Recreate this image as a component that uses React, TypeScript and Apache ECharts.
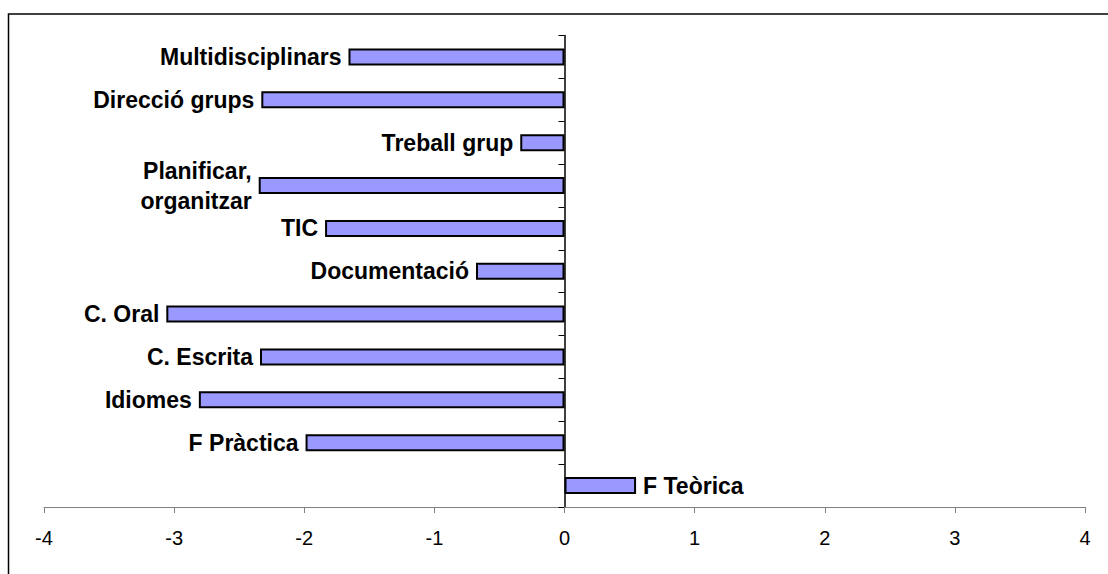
import React, { useEffect, useRef } from "react";
import * as echarts from "echarts";

const categories = [
  "Multidisciplinars",
  "Direcció grups",
  "Treball grup",
  "Planificar,\norganitzar",
  "TIC",
  "Documentació",
  "C. Oral",
  "C. Escrita",
  "Idiomes",
  "F Pràctica",
  "F Teòrica",
];
const values = [-1.66, -2.33, -0.34, -2.35, -1.84, -0.68, -3.06, -2.34, -2.81, -1.99, 0.55];
const xTicks = [-4, -3, -2, -1, 0, 1, 2, 3, 4];

const FONT = "'Liberation Sans', Arial, sans-serif";

export default function App() {
  const ref = useRef<HTMLDivElement>(null);
  useEffect(() => {
    if (!ref.current) return;
    const chart = echarts.init(ref.current, null, { renderer: "svg" });
    chart.setOption({
      animation: false,
      backgroundColor: "#ffffff",
      grid: { left: 44, right: 23, top: 35.5, bottom: 67 },
      graphic: [
        {
          type: "rect",
          shape: { x: 8.5, y: 14, width: 1200, height: 700 },
          style: { fill: "none", stroke: "#000", lineWidth: 1.5 },
          silent: true,
          z: -1,
        },
      ],
      xAxis: {
        type: "value",
        min: xTicks[0],
        max: xTicks[xTicks.length - 1],
        interval: 1,
        axisLine: { show: true, onZero: false, lineStyle: { color: "#808080", width: 1.2 } },
        axisTick: { show: true, length: 6, lineStyle: { color: "#808080" } },
        splitLine: { show: false },
        axisLabel: {
          margin: 21,
          color: "#000",
          fontSize: 20,
          fontFamily: FONT,
        },
      },
      yAxis: {
        type: "category",
        data: categories,
        inverse: true,
        axisLine: { show: true, onZero: true, lineStyle: { color: "#000", width: 1.5 } },
        axisTick: { show: true, length: 6, lineStyle: { color: "#000", width: 1 } },
        axisLabel: { show: false },
        splitLine: { show: false },
      },
      series: [
        {
          type: "bar",
          data: values.map((v) => ({
            value: v,
            label: {
              show: true,
              position: v < 0 ? "left" : "right",
              distance: 7,
              formatter: "{b}",
              color: "#000",
              fontSize: 23,
              fontWeight: "bold",
              fontFamily: FONT,
              lineHeight: 30,
              align: v < 0 ? "right" : "left",
            },
          })),
          barWidth: 17,
          itemStyle: { color: "#9999FF", borderColor: "#000", borderWidth: 2 },
        },
      ],
    });
    return () => chart.dispose();
  }, []);
  return (
    <div
      ref={ref}
      style={{ position: "fixed", left: 0, top: 0, width: 1108, height: 574 }}
    />
  );
}
